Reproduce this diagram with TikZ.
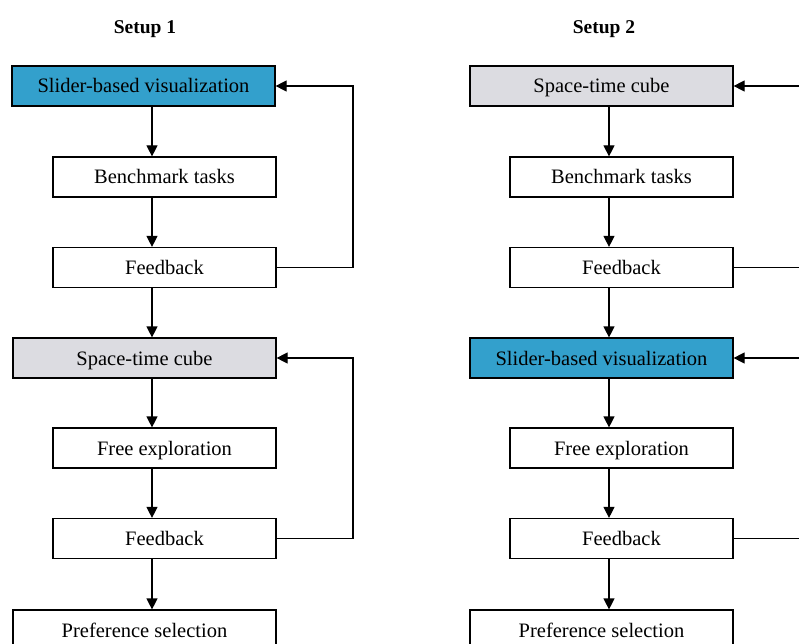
\documentclass[tikz,border=0pt]{standalone}
\usepackage{fontspec}
\setmainfont{Liberation Serif}
\usetikzlibrary{arrows.meta}
\definecolor{sliderblue}{RGB}{51,160,204}
\definecolor{cubegray}{RGB}{220,220,225}
\begin{document}
\begin{tikzpicture}[x=1pt,y=-1pt,
  box/.style={draw,line width=1.2pt,rectangle,inner sep=0pt,minimum height=40pt,text height=15pt,text depth=1pt,font=\fontsize{20.5}{24}\selectfont},
  bigbox/.style={box,minimum width=263pt},
  smallbox/.style={box,minimum width=223pt},
  title/.style={font=\fontsize{19.5}{23}\selectfont\bfseries},
  arr/.style={line width=1.2pt,-{Triangle[length=11pt,width=11pt]}}]
\useasboundingbox (0,0) rectangle (799,644);
% Setup 1
\node[title] (t1) at (145,29) {Setup 1};
\node[bigbox,fill=sliderblue] (a1) at (143.5,86) {Slider-based visualization};
\node[smallbox] (a2) at (164.5,177) {Benchmark tasks};
\node[smallbox] (a3) at (164.5,267.5) {Feedback};
\node[bigbox,fill=cubegray] (a4) at (144.5,358) {Space-time cube};
\node[smallbox] (a5) at (164.5,448) {Free exploration};
\node[smallbox] (a6) at (164.5,538.5) {Feedback};
\node[bigbox] (a7) at (144.5,630) {Preference selection};
\coordinate (ax) at (152,0);
\coordinate (ar) at (353,0);
\draw[arr] (a1.south -| ax) -- (a2.north -| ax);
\draw[arr] (a2.south -| ax) -- (a3.north -| ax);
\draw[arr] (a3.south -| ax) -- (a4.north -| ax);
\draw[arr] (a4.south -| ax) -- (a5.north -| ax);
\draw[arr] (a5.south -| ax) -- (a6.north -| ax);
\draw[arr] (a6.south -| ax) -- (a7.north -| ax);
\draw[arr] (a3.east) -- (a3.east -| ar) -- (a1.east -| ar) -- (a1.east);
\draw[arr] (a6.east) -- (a6.east -| ar) -- (a4.east -| ar) -- (a4.east);
% Setup 2
\node[title] (t2) at (604,29) {Setup 2};
\node[bigbox,fill=cubegray] (b1) at (601.5,86) {Space-time cube};
\node[smallbox] (b2) at (621.5,177) {Benchmark tasks};
\node[smallbox] (b3) at (621.5,267.5) {Feedback};
\node[bigbox,fill=sliderblue] (b4) at (601.5,358) {Slider-based visualization};
\node[smallbox] (b5) at (621.5,448) {Free exploration};
\node[smallbox] (b6) at (621.5,538.5) {Feedback};
\node[bigbox] (b7) at (601.5,630) {Preference selection};
\coordinate (bx) at (609,0);
\coordinate (br) at (810,0);
\draw[arr] (b1.south -| bx) -- (b2.north -| bx);
\draw[arr] (b2.south -| bx) -- (b3.north -| bx);
\draw[arr] (b3.south -| bx) -- (b4.north -| bx);
\draw[arr] (b4.south -| bx) -- (b5.north -| bx);
\draw[arr] (b5.south -| bx) -- (b6.north -| bx);
\draw[arr] (b6.south -| bx) -- (b7.north -| bx);
\draw[arr] (b3.east) -- (b3.east -| br) -- (b1.east -| br) -- (b1.east);
\draw[arr] (b6.east) -- (b6.east -| br) -- (b4.east -| br) -- (b4.east);
\end{tikzpicture}
\end{document}
